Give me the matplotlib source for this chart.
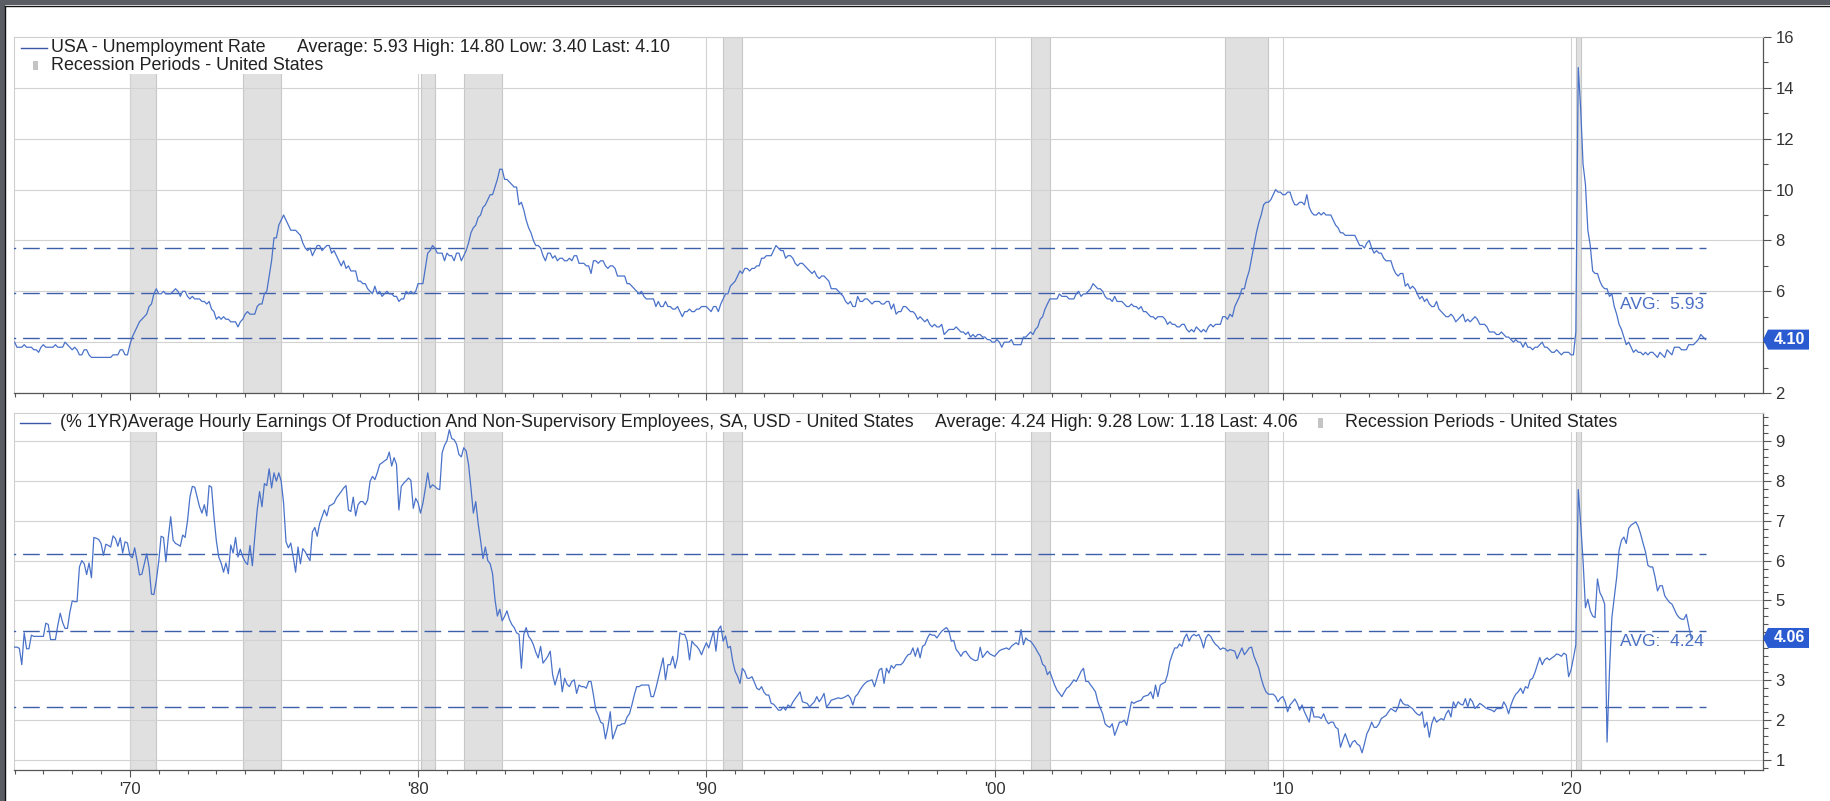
import numpy as np
import pandas as pd
import matplotlib
matplotlib.use("Agg")
import matplotlib.pyplot as plt
from matplotlib.patches import Rectangle, Polygon
from matplotlib.ticker import MultipleLocator, FixedLocator, FuncFormatter
from matplotlib.transforms import ScaledTranslation

plt.rcParams['font.family'] = ['Liberation Sans', 'DejaVu Sans']

# monthly data, first value = Jan 1966
series_start = "1966-01"

unemployment = [
    4.0, 3.8, 3.8, 3.8, 3.9, 3.8, 3.8, 3.8, 3.7, 3.7, 3.6, 3.8,  # 1966
    3.9, 3.8, 3.8, 3.8, 3.8, 3.9, 3.8, 3.8, 3.8, 4.0, 3.9, 3.8,
    3.7, 3.8, 3.7, 3.5, 3.5, 3.7, 3.7, 3.5, 3.4, 3.4, 3.4, 3.4,
    3.4, 3.4, 3.4, 3.4, 3.4, 3.5, 3.5, 3.5, 3.7, 3.7, 3.5, 3.5,
    3.9, 4.2, 4.4, 4.6, 4.8, 4.9, 5.0, 5.1, 5.4, 5.5, 5.9, 6.1,  # 1970
    5.9, 5.9, 6.0, 5.9, 5.9, 5.9, 6.0, 6.1, 6.0, 5.8, 6.0, 6.0,
    5.8, 5.7, 5.8, 5.7, 5.7, 5.7, 5.6, 5.6, 5.5, 5.6, 5.3, 5.2,
    4.9, 5.0, 4.9, 5.0, 4.9, 4.9, 4.8, 4.8, 4.8, 4.6, 4.8, 4.9,
    5.1, 5.2, 5.1, 5.1, 5.1, 5.4, 5.5, 5.5, 5.9, 6.0, 6.6, 7.2,
    8.1, 8.1, 8.6, 8.8, 9.0, 8.8, 8.6, 8.4, 8.4, 8.4, 8.3, 8.2,
    7.9, 7.7, 7.6, 7.7, 7.4, 7.6, 7.8, 7.8, 7.6, 7.7, 7.8, 7.8,
    7.5, 7.6, 7.4, 7.2, 7.0, 7.2, 6.9, 7.0, 6.8, 6.8, 6.8, 6.4,
    6.4, 6.3, 6.3, 6.1, 6.0, 5.9, 6.2, 5.9, 6.0, 5.8, 5.9, 6.0,
    5.9, 5.9, 5.8, 5.8, 5.6, 5.7, 5.7, 6.0, 5.9, 6.0, 5.9, 6.0,
    6.3, 6.3, 6.3, 6.9, 7.5, 7.6, 7.8, 7.7, 7.5, 7.5, 7.5, 7.2,  # 1980
    7.5, 7.4, 7.4, 7.2, 7.5, 7.5, 7.2, 7.4, 7.6, 7.9, 8.3, 8.5,
    8.6, 8.9, 9.0, 9.3, 9.4, 9.6, 9.8, 9.8, 10.1, 10.4, 10.8, 10.8,
    10.4, 10.4, 10.3, 10.2, 10.1, 10.1, 9.4, 9.5, 9.2, 8.8, 8.5, 8.3,
    8.0, 7.8, 7.8, 7.7, 7.4, 7.2, 7.5, 7.5, 7.3, 7.4, 7.2, 7.3,
    7.3, 7.2, 7.2, 7.3, 7.2, 7.4, 7.4, 7.1, 7.1, 7.1, 7.0, 7.0,
    6.7, 7.2, 7.2, 7.1, 7.2, 7.2, 7.0, 6.9, 7.0, 7.0, 6.9, 6.6,
    6.6, 6.6, 6.6, 6.3, 6.3, 6.2, 6.1, 6.0, 5.9, 6.0, 5.8, 5.7,
    5.7, 5.7, 5.7, 5.4, 5.6, 5.4, 5.4, 5.6, 5.4, 5.4, 5.3, 5.3,
    5.4, 5.2, 5.0, 5.2, 5.2, 5.3, 5.2, 5.2, 5.3, 5.3, 5.4, 5.4,
    5.4, 5.3, 5.2, 5.4, 5.4, 5.2, 5.5, 5.7, 5.9, 5.9, 6.2, 6.3,  # 1990
    6.4, 6.6, 6.8, 6.7, 6.9, 6.9, 6.8, 6.9, 6.9, 7.0, 7.0, 7.3,
    7.3, 7.4, 7.4, 7.4, 7.6, 7.8, 7.7, 7.6, 7.6, 7.3, 7.4, 7.4,
    7.3, 7.1, 7.0, 7.1, 7.1, 7.0, 6.9, 6.8, 6.7, 6.8, 6.6, 6.5,
    6.6, 6.6, 6.5, 6.4, 6.1, 6.1, 6.1, 6.0, 5.9, 5.8, 5.6, 5.5,
    5.6, 5.4, 5.4, 5.8, 5.6, 5.6, 5.7, 5.7, 5.6, 5.5, 5.6, 5.6,
    5.6, 5.5, 5.5, 5.6, 5.6, 5.3, 5.5, 5.1, 5.2, 5.2, 5.4, 5.4,
    5.3, 5.2, 5.2, 5.1, 4.9, 5.0, 4.9, 4.8, 4.9, 4.7, 4.6, 4.7,
    4.6, 4.6, 4.7, 4.3, 4.4, 4.5, 4.5, 4.5, 4.6, 4.5, 4.4, 4.4,
    4.3, 4.4, 4.2, 4.3, 4.2, 4.3, 4.3, 4.2, 4.2, 4.1, 4.1, 4.0,
    4.0, 4.1, 4.0, 3.8, 4.0, 4.0, 4.0, 4.1, 3.9, 3.9, 3.9, 3.9,  # 2000
    4.2, 4.2, 4.3, 4.4, 4.3, 4.5, 4.6, 4.9, 5.0, 5.3, 5.5, 5.7,
    5.7, 5.7, 5.7, 5.9, 5.8, 5.8, 5.8, 5.7, 5.7, 5.7, 5.9, 6.0,
    5.8, 5.9, 5.9, 6.0, 6.1, 6.3, 6.2, 6.1, 6.1, 6.0, 5.8, 5.7,
    5.7, 5.6, 5.8, 5.6, 5.6, 5.6, 5.5, 5.4, 5.4, 5.5, 5.4, 5.4,
    5.3, 5.4, 5.2, 5.2, 5.1, 5.0, 5.0, 4.9, 5.0, 5.0, 5.0, 4.9,
    4.7, 4.8, 4.7, 4.7, 4.6, 4.6, 4.7, 4.7, 4.5, 4.4, 4.5, 4.4,
    4.6, 4.5, 4.4, 4.5, 4.4, 4.6, 4.7, 4.6, 4.7, 4.7, 4.7, 5.0,
    5.0, 4.9, 5.1, 5.0, 5.4, 5.6, 5.8, 6.1, 6.1, 6.5, 6.8, 7.3,
    7.8, 8.3, 8.7, 9.0, 9.4, 9.5, 9.5, 9.6, 9.8, 10.0, 9.9, 9.9,
    9.8, 9.8, 9.9, 9.9, 9.6, 9.4, 9.4, 9.5, 9.5, 9.4, 9.8, 9.3,  # 2010
    9.1, 9.0, 9.0, 9.1, 9.0, 9.1, 9.0, 9.0, 9.0, 8.8, 8.6, 8.5,
    8.3, 8.3, 8.2, 8.2, 8.2, 8.2, 8.2, 8.0, 7.8, 7.8, 7.7, 7.9,
    8.0, 7.7, 7.5, 7.6, 7.5, 7.5, 7.3, 7.2, 7.2, 7.2, 6.9, 6.7,
    6.6, 6.7, 6.7, 6.2, 6.3, 6.1, 6.2, 6.1, 5.9, 5.7, 5.8, 5.6,
    5.7, 5.5, 5.4, 5.4, 5.6, 5.3, 5.2, 5.1, 5.0, 5.0, 5.1, 5.0,
    4.8, 4.9, 5.0, 5.1, 4.8, 4.9, 4.8, 4.9, 5.0, 4.9, 4.7, 4.7,
    4.7, 4.6, 4.4, 4.4, 4.4, 4.3, 4.3, 4.4, 4.3, 4.2, 4.2, 4.1,
    4.0, 4.1, 4.0, 4.0, 3.8, 4.0, 3.8, 3.8, 3.7, 3.8, 3.8, 3.9,
    4.0, 3.8, 3.8, 3.7, 3.6, 3.6, 3.7, 3.6, 3.5, 3.6, 3.6, 3.6,
    3.5, 3.5, 4.4, 14.8, 13.2, 11.0, 10.2, 8.4, 7.8, 6.8, 6.7, 6.7,  # 2020
    6.4, 6.2, 6.1, 6.1, 5.8, 5.9, 5.4, 5.1, 4.7, 4.5, 4.2, 3.9,
    4.0, 3.8, 3.6, 3.7, 3.6, 3.6, 3.5, 3.6, 3.5, 3.6, 3.6, 3.5,
    3.4, 3.6, 3.5, 3.4, 3.7, 3.6, 3.5, 3.8, 3.8, 3.8, 3.7, 3.7,
    3.7, 3.9, 3.9, 3.9, 4.0, 4.1, 4.3, 4.2, 4.1,
]

ahe_yoy = [
    3.83, 3.83, 3.80, 3.39, 4.19, 3.79, 3.79, 4.13, 4.10, 4.10, 4.10, 4.10,  # 1966
    4.10, 4.43, 4.40, 4.02, 4.02, 4.02, 4.38, 4.68, 4.45, 4.30, 4.30, 4.70,
    4.99, 4.97, 4.97, 5.84, 6.00, 5.92, 5.65, 5.94, 5.57, 6.58, 6.56, 6.53,
    6.43, 6.13, 6.41, 6.38, 6.34, 6.62, 6.55, 6.36, 6.57, 6.19, 6.47, 6.44,
    6.13, 6.07, 6.32, 6.00, 5.64, 5.66, 5.92, 6.17, 5.83, 5.16, 5.15, 5.50,  # 1970
    5.97, 6.61, 6.58, 5.97, 6.58, 7.10, 6.51, 6.43, 6.40, 6.36, 6.64, 6.58,
    7.00, 7.59, 7.86, 7.84, 7.60, 7.35, 7.19, 7.40, 7.12, 7.88, 7.84, 7.10,
    6.50, 6.09, 5.94, 5.71, 5.94, 5.67, 6.39, 6.19, 6.58, 6.09, 6.28, 6.09,
    5.97, 5.90, 6.38, 5.87, 6.59, 7.27, 7.73, 7.35, 7.93, 7.88, 8.30, 7.82,
    8.20, 7.99, 8.20, 7.99, 7.44, 6.47, 6.32, 6.44, 6.09, 5.71, 6.34, 5.92,
    6.30, 6.22, 6.10, 6.00, 6.72, 6.83, 6.61, 6.93, 7.10, 7.27, 7.12, 7.37,
    7.40, 7.44, 7.57, 7.65, 7.73, 7.82, 7.88, 7.27, 7.23, 7.59, 7.12, 7.40,
    7.48, 7.48, 7.40, 7.52, 7.99, 8.11, 8.03, 8.20, 8.41, 8.45, 8.50, 8.54,
    8.72, 8.37, 8.58, 8.41, 7.27, 7.86, 7.94, 8.00, 8.07, 8.01, 7.31, 7.56,
    7.45, 7.19, 7.44, 7.80, 8.20, 7.82, 7.90, 7.86, 7.80, 7.78, 8.70, 8.89,  # 1980
    9.00, 9.28, 9.06, 9.03, 8.92, 8.66, 8.60, 8.83, 8.75, 8.41, 7.82, 7.19,
    7.48, 6.93, 6.51, 6.05, 6.34, 6.00, 5.92, 5.67, 5.03, 4.61, 4.78, 4.49,
    4.60, 4.74, 4.53, 4.40, 4.32, 4.19, 4.15, 3.30, 4.15, 4.32, 4.10, 4.02,
    3.89, 3.70, 3.56, 3.85, 3.43, 3.51, 3.60, 3.73, 3.14, 2.88, 3.10, 3.30,
    2.71, 3.05, 2.90, 2.84, 2.97, 3.01, 2.67, 2.88, 2.84, 2.84, 2.80, 2.97,
    2.97, 2.63, 2.25, 2.12, 1.95, 1.91, 1.53, 1.82, 2.21, 1.53, 1.70, 1.87,
    1.87, 1.91, 1.91, 2.08, 2.16, 2.38, 2.63, 2.84, 2.84, 2.88, 2.88, 2.88,
    2.88, 2.59, 2.59, 2.80, 3.05, 3.30, 3.56, 3.01, 3.39, 3.39, 3.60, 3.30,
    3.56, 4.19, 4.15, 4.15, 3.98, 3.51, 3.98, 3.90, 3.85, 3.77, 3.64, 3.80,
    3.94, 3.81, 4.02, 4.23, 3.73, 4.27, 4.36, 3.98, 4.11, 3.81, 3.85, 3.47,  # 1990
    3.22, 3.10, 2.92, 3.30, 3.22, 3.05, 3.05, 3.09, 2.95, 2.80, 2.76, 2.84,
    2.70, 2.63, 2.63, 2.42, 2.40, 2.33, 2.25, 2.25, 2.33, 2.25, 2.38, 2.33,
    2.45, 2.54, 2.62, 2.71, 2.46, 2.44, 2.42, 2.33, 2.40, 2.46, 2.59, 2.46,
    2.55, 2.67, 2.33, 2.40, 2.50, 2.52, 2.54, 2.56, 2.54, 2.56, 2.59, 2.63,
    2.55, 2.38, 2.59, 2.65, 2.76, 2.85, 2.92, 2.97, 2.99, 3.01, 2.84, 3.05,
    3.26, 3.30, 2.92, 3.30, 3.18, 3.37, 3.30, 3.39, 3.39, 3.39, 3.45, 3.56,
    3.64, 3.66, 3.81, 3.60, 3.81, 3.56, 3.85, 3.89, 4.05, 4.16, 4.13, 4.13,
    4.06, 4.15, 4.23, 4.28, 4.32, 4.23, 3.98, 4.00, 3.77, 3.70, 3.60, 3.70,
    3.73, 3.64, 3.56, 3.52, 3.49, 3.51, 3.83, 3.57, 3.65, 3.73, 3.66, 3.63,
    3.60, 3.67, 3.74, 3.77, 3.79, 3.81, 3.77, 3.85, 3.90, 3.94, 3.89, 4.27,  # 2000
    3.89, 4.06, 4.00, 3.98, 3.90, 3.81, 3.70, 3.60, 3.40, 3.35, 3.14, 3.22,
    3.05, 2.88, 2.75, 2.67, 2.59, 2.70, 2.80, 2.84, 2.92, 3.01, 2.97, 3.09,
    3.22, 3.30, 2.97, 2.97, 2.88, 2.80, 2.71, 2.46, 2.30, 2.16, 1.91, 1.85,
    1.82, 1.91, 1.62, 1.78, 1.95, 1.95, 2.00, 1.87, 2.16, 2.46, 2.42, 2.46,
    2.48, 2.50, 2.59, 2.61, 2.63, 2.71, 2.54, 2.88, 2.59, 2.88, 2.92, 2.95,
    3.14, 3.47, 3.65, 3.81, 3.81, 3.91, 3.85, 4.06, 4.16, 3.98, 4.10, 4.15,
    4.11, 4.15, 4.02, 3.81, 4.06, 4.15, 4.10, 3.98, 3.90, 3.85, 3.77, 3.81,
    3.79, 3.73, 3.77, 3.75, 3.73, 3.54, 3.68, 3.81, 3.64, 3.72, 3.81, 3.83,
    3.60, 3.45, 3.30, 3.05, 2.85, 2.71, 2.65, 2.65, 2.65, 2.59, 2.46, 2.55,
    2.59, 2.46, 2.21, 2.38, 2.45, 2.53, 2.42, 2.25, 2.38, 2.21, 2.08, 1.95,  # 2010
    2.33, 2.08, 2.08, 2.08, 2.04, 2.16, 2.00, 1.91, 1.95, 1.95, 1.82, 1.78,
    1.32, 1.50, 1.66, 1.49, 1.32, 1.45, 1.49, 1.40, 1.36, 1.18, 1.41, 1.66,
    1.78, 1.95, 1.82, 1.82, 1.90, 2.04, 2.08, 2.12, 2.21, 2.29, 2.25, 2.21,
    2.33, 2.53, 2.42, 2.38, 2.38, 2.33, 2.29, 2.21, 2.15, 2.12, 2.21, 1.82,
    1.95, 1.57, 1.91, 2.08, 1.95, 2.00, 2.04, 2.00, 2.16, 2.25, 2.08, 2.46,
    2.33, 2.46, 2.40, 2.38, 2.54, 2.33, 2.54, 2.46, 2.29, 2.35, 2.42, 2.38,
    2.33, 2.29, 2.27, 2.25, 2.21, 2.29, 2.29, 2.29, 2.46, 2.35, 2.16, 2.38,
    2.54, 2.65, 2.71, 2.80, 2.67, 2.84, 2.80, 3.01, 3.05, 3.20, 3.39, 3.57,
    3.39, 3.51, 3.56, 3.51, 3.56, 3.60, 3.66, 3.64, 3.60, 3.68, 3.64, 3.09,
    3.26, 3.56, 3.89, 7.78, 6.93, 6.00, 4.82, 5.03, 4.74, 4.61, 4.57, 5.54,  # 2020
    5.20, 5.08, 4.91, 1.45, 3.22, 4.57, 5.08, 5.58, 6.26, 6.51, 6.59, 6.43,
    6.81, 6.89, 6.93, 6.97, 6.85, 6.66, 6.43, 6.22, 5.88, 5.84, 5.84, 5.58,
    5.24, 5.37, 5.37, 5.12, 5.03, 4.95, 4.91, 4.78, 4.65, 4.57, 4.53, 4.53,
    4.65, 4.36, 4.06,
]

recessions = [("1970-01", "1970-12"), ("1973-12", "1975-04"), ("1980-02", "1980-08"),
              ("1981-08", "1982-12"), ("1990-08", "1991-04"), ("2001-04", "2001-12"),
              ("2008-01", "2009-07"), ("2020-03", "2020-05")]

decades = [1970, 1980, 1990, 2000, 2010, 2020]
decade_labels = ["'70", "'80", "'90", "'00", "'10", "'20"]

unemp_title = "USA - Unemployment Rate"
unemp_stats = "Average: 5.93 High: 14.80 Low: 3.40 Last: 4.10"
unemp_avg, unemp_band, unemp_last = 5.93, [4.15, 7.71], 4.10

ahe_title = ("(% 1YR)Average Hourly Earnings Of Production And Non-Supervisory "
             "Employees, SA, USD - United States")
ahe_stats = "Average: 4.24 High: 9.28 Low: 1.18 Last: 4.06"
ahe_avg, ahe_band, ahe_last = 4.24, [2.32, 6.16], 4.06

rec_label = "Recession Periods - United States"

LINE = '#4a72c9'
DASH = '#3d5ea9'
TAG = '#2b5bd1'
W, H = 1831, 801


def dec_year(s):
    d = pd.Timestamp(s)
    return d.year + (d.month - 1) / 12


def month_axis(start, n):
    d = pd.date_range(start, periods=n, freq="MS")
    return np.asarray(d.year + (d.month - 1) / 12, dtype=float)


def box(l, t, r, b):
    return [l / W, 1 - b / H, (r - l) / W, (b - t) / H]


def fx(x):
    return x / W


def fy(y):
    return 1 - y / H


x_u = month_axis(series_start, len(unemployment))
x_a = month_axis(series_start, len(ahe_yoy))
x_end = x_u[-1] + 0.03

fig = plt.figure(figsize=(W / 100, H / 100), dpi=100)
fig.patch.set_facecolor('white')

ax1 = fig.add_axes(box(14, 37, 1763, 393))
ax2 = fig.add_axes(box(14, 413, 1763, 770))


def style(ax, ylim, major, minor, values, xs, avg, band, last, avg_txt):
    ax.set_xlim(1965.98, 2026.66)
    ax.set_ylim(*ylim)
    for s, e in recessions:
        ax.axvspan(dec_year(s), dec_year(e), facecolor='#e0e0e0', edgecolor='#c8c8c8',
                   lw=0.8, zorder=1)
    ax.yaxis.tick_right()
    ax.yaxis.set_major_locator(MultipleLocator(major))
    ax.yaxis.set_minor_locator(MultipleLocator(minor))
    # the tag over the last value hides the tick label underneath it
    ax.yaxis.set_major_formatter(FuncFormatter(
        lambda v, p: '' if abs(v - last) < major / 2 else f"{v:g}"))
    ax.xaxis.set_major_locator(FixedLocator(decades))
    ax.xaxis.set_minor_locator(MultipleLocator(1))
    ax.grid(which='major', color='#d2d2d2', lw=0.8)
    ax.tick_params(axis='y', which='major', length=6, width=0.8, color='#555555',
                   labelsize=12, labelcolor='#333333', pad=3)
    ax.tick_params(axis='y', which='minor', length=3.5, width=0.8, color='#555555')
    ax.tick_params(axis='x', which='major', length=5, width=0.8, color='#555555',
                   labelsize=12, labelcolor='#333333', pad=4)
    ax.tick_params(axis='x', which='minor', length=3, width=0.8, color='#555555')
    for side in ['right', 'bottom']:
        ax.spines[side].set_color('#555555')
        ax.spines[side].set_linewidth(0.9)
    for side in ['top', 'left']:
        ax.spines[side].set_color('#cfcfcf')
        ax.spines[side].set_linewidth(0.8)

    for lvl in [band[1], avg, band[0]]:
        ax.hlines(lvl, xs[0] - 1, x_end, colors=DASH, lw=1.0,
                  linestyles=(0, (12, 5)), zorder=3)
    ax.plot(xs, values, color=LINE, lw=0.9, zorder=4)
    ax.annotate(avg_txt, (x_end, avg), xytext=(-2, -2.5), textcoords='offset points',
                ha='right', va='top', fontsize=12.5, color='#4a6fc4', zorder=5)

    tr = fig.dpi_scale_trans + ScaledTranslation(1.0, last, ax.get_yaxis_transform())
    tag = Polygon([(0, 0), (0.05, 0.10), (0.46, 0.10), (0.46, -0.10), (0.05, -0.10)],
                  closed=True, transform=tr, facecolor=TAG, edgecolor='none',
                  clip_on=False, zorder=10)
    ax.add_patch(tag)
    ax.text(0.265, 0.0, f"{last:.2f}", transform=tr, ha='center', va='center',
            color='white', fontsize=11.5, fontweight='bold', zorder=11, clip_on=False)


style(ax1, (2, 16), 2, 1, unemployment, x_u, unemp_avg, unemp_band, unemp_last,
      f"AVG:  {unemp_avg:.2f}")
style(ax2, (0.75, 9.7), 1, 0.2, ahe_yoy, x_a, ahe_avg, ahe_band, ahe_last,
      f"AVG:  {ahe_avg:.2f}")
ax1.set_xticklabels([])
ax2.set_xticklabels(decade_labels)

# legend backgrounds
ax1.add_patch(Rectangle((0, 1 - 37 / 356), (690 - 14) / 1749, 37 / 356,
                        transform=ax1.transAxes, facecolor='white', edgecolor='none',
                        zorder=1.8))
ax2.add_patch(Rectangle((0, 1 - 19 / 357), 1, 19 / 357, transform=ax2.transAxes,
                        facecolor='white', edgecolor='none', zorder=1.8))

# legend entries
txt = dict(fontsize=12.9, color='#222222', va='center')
fig.add_artist(plt.Line2D([fx(21), fx(47)], [fy(48), fy(48)], color='#3b55a8', lw=1.0))
fig.text(fx(51), fy(48), unemp_title, **txt)
fig.text(fx(297), fy(48), unemp_stats, **txt)
fig.add_artist(Rectangle((fx(33), fy(70)), fx(5), 9 / H, facecolor='#c4c4c4',
                         edgecolor='none'))
fig.text(fx(51), fy(65), rec_label, **txt)

fig.add_artist(plt.Line2D([fx(20), fx(50)], [fy(423), fy(423)], color='#3b55a8', lw=1.0))
fig.text(fx(60), fy(423), ahe_title, **txt)
fig.text(fx(935), fy(423), ahe_stats, **txt)
fig.add_artist(Rectangle((fx(1318), fy(428)), fx(5), 10 / H, facecolor='#c4c4c4',
                         edgecolor='none'))
fig.text(fx(1345), fy(423), rec_label, **txt)

# dark frame on the top and left edges
frame = '#5a5d64'
fig.add_artist(Rectangle((0, fy(5)), 1, 5 / H, facecolor=frame, edgecolor='none'))
fig.add_artist(Rectangle((0, 0), fx(5), 1, facecolor=frame, edgecolor='none'))
fig.add_artist(plt.Line2D([fx(5.5), 1], [fy(5.5), fy(5.5)], color='#111111', lw=1.0))
fig.add_artist(plt.Line2D([fx(5.5), fx(5.5)], [0, fy(5.5)], color='#111111', lw=1.0))

fig.savefig("out.png", dpi=100)
